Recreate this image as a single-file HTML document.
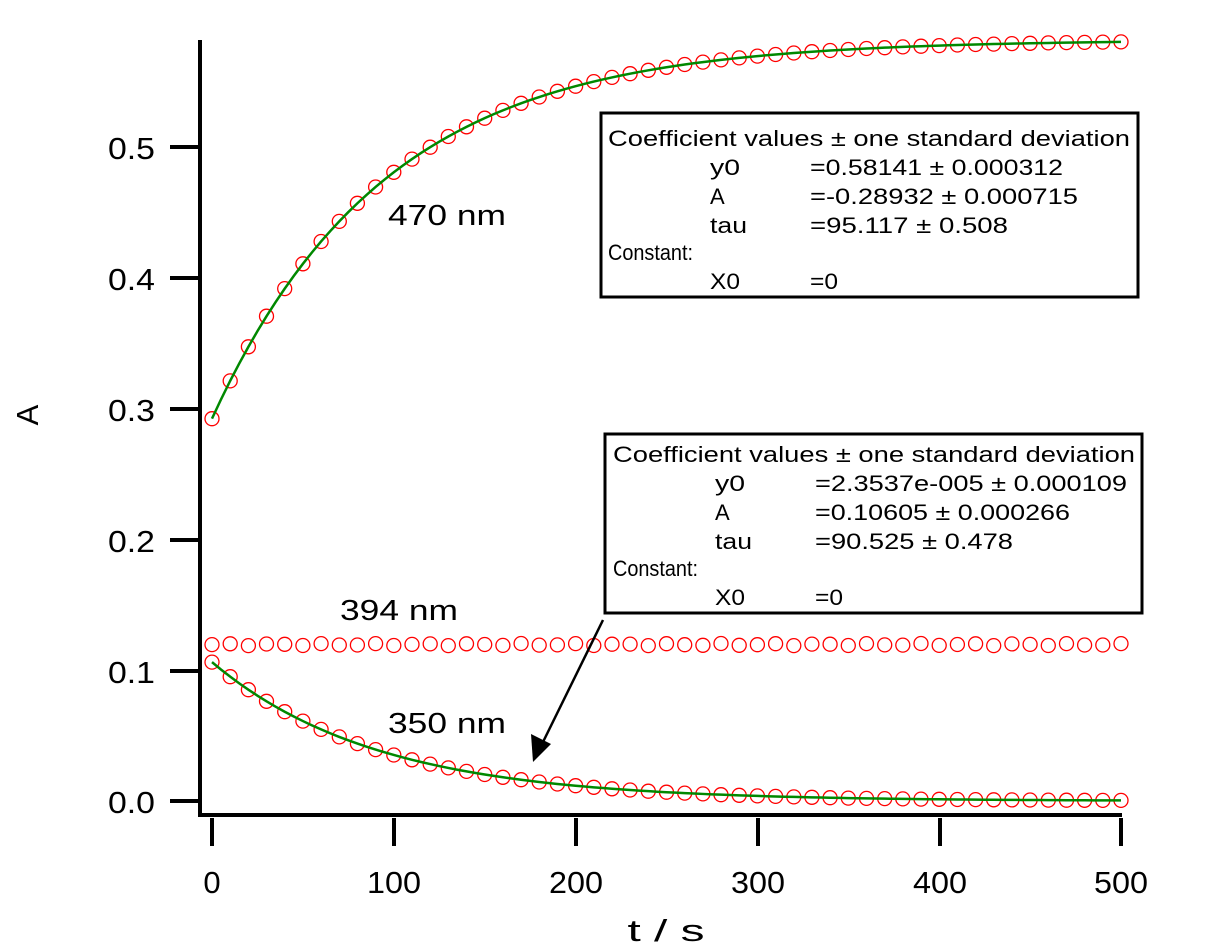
<!DOCTYPE html>
<html><head><meta charset="utf-8"><style>
body{margin:0;background:#fff}
svg{display:block;font-family:"Liberation Sans","Noto Sans CJK JP",sans-serif}
</style></head><body>
<svg id="s" width="1211" height="948" xmlns="http://www.w3.org/2000/svg">
<g stroke="#000" stroke-width="4" fill="none">
<polyline points="200,40 200,815 1122,815"/>
<line x1="170" y1="801" x2="198" y2="801"/>
<line x1="170" y1="671" x2="198" y2="671"/>
<line x1="170" y1="540" x2="198" y2="540"/>
<line x1="170" y1="409" x2="198" y2="409"/>
<line x1="170" y1="278" x2="198" y2="278"/>
<line x1="170" y1="147" x2="198" y2="147"/>
<line x1="212" y1="818" x2="212" y2="846"/>
<line x1="394" y1="818" x2="394" y2="846"/>
<line x1="576" y1="818" x2="576" y2="846"/>
<line x1="758" y1="818" x2="758" y2="846"/>
<line x1="940" y1="818" x2="940" y2="846"/>
<line x1="1121" y1="818" x2="1121" y2="846"/>
</g>
<g font-size="31" fill="#000" lengthAdjust="spacingAndGlyphs">
<text x="108" y="813" textLength="47" lengthAdjust="spacingAndGlyphs">0.0</text>
<text x="108" y="683" textLength="47" lengthAdjust="spacingAndGlyphs">0.1</text>
<text x="108" y="552" textLength="47" lengthAdjust="spacingAndGlyphs">0.2</text>
<text x="108" y="421" textLength="47" lengthAdjust="spacingAndGlyphs">0.3</text>
<text x="108" y="290" textLength="47" lengthAdjust="spacingAndGlyphs">0.4</text>
<text x="108" y="159" textLength="47" lengthAdjust="spacingAndGlyphs">0.5</text>
</g>
<g font-size="31" text-anchor="middle" fill="#000">
<text x="212" y="893">0</text>
<text x="394" y="893" textLength="54" lengthAdjust="spacingAndGlyphs">100</text>
<text x="576" y="893" textLength="54" lengthAdjust="spacingAndGlyphs">200</text>
<text x="758" y="893" textLength="54" lengthAdjust="spacingAndGlyphs">300</text>
<text x="940" y="893" textLength="54" lengthAdjust="spacingAndGlyphs">400</text>
<text x="1121" y="893" textLength="54" lengthAdjust="spacingAndGlyphs">500</text>
<text x="666" y="941" textLength="77" lengthAdjust="spacingAndGlyphs">t / s</text>
<text transform="translate(38,415) rotate(-90)">A</text>
</g>
<g font-size="29" fill="#000">
<text x="388" y="225" textLength="118" lengthAdjust="spacingAndGlyphs">470 nm</text>
<text x="340" y="620" textLength="118" lengthAdjust="spacingAndGlyphs">394 nm</text>
<text x="388" y="733" textLength="118" lengthAdjust="spacingAndGlyphs">350 nm</text>
</g>
<g id="pts" fill="none" stroke="#f00" stroke-width="1.3"></g>
<g id="fits" fill="none" stroke="#080" stroke-width="2.5"></g>
<rect x="601" y="113" width="537" height="184" fill="#fff" stroke="#000" stroke-width="3"/>
<g font-size="22" fill="#000">
<text x="608" y="146" textLength="522" lengthAdjust="spacingAndGlyphs">Coefficient values ± one standard deviation</text>
<text x="710" y="175" textLength="30" lengthAdjust="spacingAndGlyphs">y0</text><text x="810" y="175" textLength="253" lengthAdjust="spacingAndGlyphs">=0.58141 ± 0.000312</text>
<text x="710" y="204">A</text><text x="810" y="204" textLength="268" lengthAdjust="spacingAndGlyphs">=-0.28932 ± 0.000715</text>
<text x="710" y="233" textLength="37" lengthAdjust="spacingAndGlyphs">tau</text><text x="810" y="233" textLength="198" lengthAdjust="spacingAndGlyphs">=95.117 ± 0.508</text>
<text x="608" y="260" textLength="85" lengthAdjust="spacingAndGlyphs">Constant:</text>
<text x="710" y="289" textLength="30" lengthAdjust="spacingAndGlyphs">X0</text><text x="810" y="289" textLength="28" lengthAdjust="spacingAndGlyphs">=0</text>
</g>
<rect x="605" y="434" width="537" height="179" fill="#fff" stroke="#000" stroke-width="3"/>
<g font-size="22" fill="#000">
<text x="613" y="462" textLength="522" lengthAdjust="spacingAndGlyphs">Coefficient values ± one standard deviation</text>
<text x="715" y="491" textLength="30" lengthAdjust="spacingAndGlyphs">y0</text><text x="815" y="491" textLength="312" lengthAdjust="spacingAndGlyphs">=2.3537e-005 ± 0.000109</text>
<text x="715" y="520">A</text><text x="815" y="520" textLength="255" lengthAdjust="spacingAndGlyphs">=0.10605 ± 0.000266</text>
<text x="715" y="549" textLength="37" lengthAdjust="spacingAndGlyphs">tau</text><text x="815" y="549" textLength="198" lengthAdjust="spacingAndGlyphs">=90.525 ± 0.478</text>
<text x="613" y="576" textLength="85" lengthAdjust="spacingAndGlyphs">Constant:</text>
<text x="715" y="605" textLength="30" lengthAdjust="spacingAndGlyphs">X0</text><text x="815" y="605" textLength="28" lengthAdjust="spacingAndGlyphs">=0</text>
</g>
<line x1="603" y1="620" x2="543" y2="742" stroke="#000" stroke-width="2.5"/>
<polygon points="533,762 531,734 551,744" fill="#000"/>
</svg>
<script>
var X=function(t){return 212+t*1.818},Y=function(v){return 801-v*1309};
var pts=document.getElementById('pts'),fits=document.getElementById('fits');
function f1(t){return 0.58141-0.28932*Math.exp(-t/95.117)}
function f2(t){return 2.35e-5+0.10605*Math.exp(-t/90.525)}
var s='';
for(var i=0;i<=50;i++){var t=i*10;
[f1(t),f2(t),0.1195+0.0008*Math.sin(i*2.3)].forEach(function(v){
s+='<circle cx="'+X(t).toFixed(1)+'" cy="'+Y(v).toFixed(1)+'" r="7"/>';});}
pts.innerHTML=s;
var a='',b='';for(var t=0;t<=500;t+=5){a+=X(t)+','+Y(f1(t))+' ';b+=X(t)+','+Y(f2(t))+' ';}
fits.innerHTML='<polyline points="'+a+'"/><polyline points="'+b+'"/>';
</script>
</body></html>
